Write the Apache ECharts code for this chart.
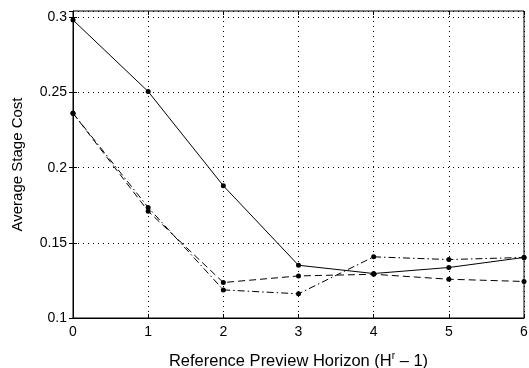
<!DOCTYPE html>
<html>
<head>
<meta charset="utf-8">
<script src="https://cdn.jsdelivr.net/npm/echarts@6/dist/echarts.min.js"></script>
<style>
html,body{margin:0;padding:0;background:#fff;}
#main{width:529px;height:368px;}
</style>
</head>
<body>
<div id="main"></div>
<script>
// horizon values on the x axis
var horizons = [0, 1, 2, 3, 4, 5, 6];
// average stage cost, one array per line style
var costSolid = [0.2983, 0.2507, 0.1880, 0.1351, 0.1296, 0.1336, 0.1403];
var costDashed = [0.2363, 0.1711, 0.1236, 0.1280, 0.1291, 0.1258, 0.1243];
var costDashDot = [0.2363, 0.1736, 0.1187, 0.1161, 0.1407, 0.1389, 0.1403];

var fontName = 'Liberation Sans, Arial, sans-serif';

function pairs(vals){
    var out = [];
    for(var i=0;i<vals.length;i++){
        out.push([horizons[i], vals[i]]);
    }
    return out;
}

function makeLine(vals, dash){
    return {
        type: 'line',
        data: pairs(vals),
        symbol: 'circle',
        symbolSize: 5,
        showSymbol: true,
        itemStyle: {color: '#000'},
        lineStyle: {color: '#000', width: 1, type: dash},
        animation: false,
        z: 5
    };
}

var myChart = echarts.init(document.getElementById('main'));
myChart.setOption({
    backgroundColor: '#fff',
    animation: false,
    grid: {
        left: 73,
        right: 5,
        top: 11,
        bottom: 50,
        containLabel: false,
        outerBoundsMode: 'none',
        show: true,
        borderColor: '#000',
        borderWidth: 1
    },
    xAxis: [{
        type: 'value',
        min: 0,
        max: 6,
        interval: 1,
        name: '{a|Reference Preview Horizon (H}{s|r}{a| \u2013 1)}',
        nameLocation: 'middle',
        nameGap: 33,
        nameTextStyle: {
            rich: {
                a: {fontFamily: fontName, fontSize: 16.5, color: '#000'},
                s: {fontFamily: fontName, fontSize: 10, color: '#000', verticalAlign: 'top', padding: [0, 0, 10, 0]}
            }
        },
        axisLine: {lineStyle: {color: '#000', width: 1}},
        axisTick: {inside: true, length: 4, lineStyle: {color: '#000'}},
        axisLabel: {fontFamily: fontName, fontSize: 14, color: '#000', margin: 7},
        splitLine: {show: true, lineStyle: {color: '#000', type: [1, 4], width: 1}}
    }, {
        type: 'value',
        position: 'top',
        min: 0,
        max: 6,
        interval: 1,
        axisLine: {show: false},
        axisTick: {inside: true, length: 4, lineStyle: {color: '#000'}},
        axisLabel: {show: false},
        splitLine: {show: false}
    }],
    yAxis: [{
        type: 'value',
        min: 0.1,
        max: 0.3043,
        interval: 0.05,
        name: 'Average Stage Cost',
        nameLocation: 'middle',
        nameGap: 48,
        nameTextStyle: {fontFamily: fontName, fontSize: 15, color: '#000'},
        axisLine: {lineStyle: {color: '#000', width: 1}},
        axisTick: {inside: true, length: 4, lineStyle: {color: '#000'}},
        axisLabel: {
            fontFamily: fontName, fontSize: 14, color: '#000', margin: 6,
            showMaxLabel: false,
            formatter: function(v){ return String(Math.round(v*100)/100); }
        },
        splitLine: {show: true, lineStyle: {color: '#000', type: [1, 4], width: 1}}
    }, {
        type: 'value',
        position: 'right',
        min: 0.1,
        max: 0.3043,
        interval: 0.05,
        axisLine: {show: false},
        axisTick: {inside: true, length: 4, lineStyle: {color: '#000'}},
        axisLabel: {show: false},
        splitLine: {show: false}
    }],
    series: [
        makeLine(costSolid, 'solid'),
        makeLine(costDashed, [7, 4]),
        makeLine(costDashDot, [7, 3, 1.5, 3])
    ]
});
</script>
</body>
</html>
